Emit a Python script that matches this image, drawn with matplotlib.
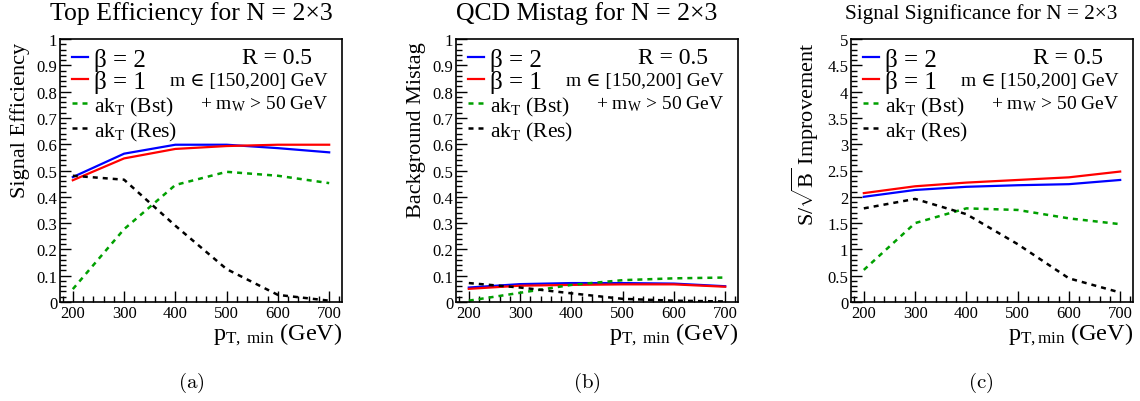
import matplotlib
matplotlib.use("Agg")
import matplotlib.pyplot as plt
from matplotlib.ticker import MultipleLocator

plt.rcParams['font.family'] = ['Liberation Serif', 'DejaVu Serif']
plt.rcParams['mathtext.fontset'] = 'custom'
plt.rcParams['mathtext.rm'] = 'Liberation Serif'
plt.rcParams['mathtext.it'] = 'Liberation Serif:italic'
plt.rcParams['mathtext.bf'] = 'Liberation Serif:bold'

pt = [200, 300, 400, 500, 600, 700]

# (a) Signal efficiency
eff_b2 = [0.475, 0.564, 0.598, 0.598, 0.585, 0.569]
eff_b1 = [0.463, 0.546, 0.582, 0.593, 0.598, 0.598]
eff_bst = [0.049, 0.277, 0.445, 0.495, 0.480, 0.452]
eff_res = [0.480, 0.465, 0.290, 0.125, 0.027, 0.005]

# (b) Background mistag
mis_b2 = [0.055, 0.068, 0.072, 0.072, 0.070, 0.060]
mis_b1 = [0.050, 0.062, 0.065, 0.067, 0.067, 0.058]
mis_bst = [0.005, 0.035, 0.065, 0.083, 0.090, 0.093]
mis_res = [0.072, 0.055, 0.033, 0.012, 0.005, 0.002]

# (c) Significance improvement
sig_b2 = [2.00, 2.13, 2.19, 2.22, 2.24, 2.32]
sig_b1 = [2.07, 2.20, 2.27, 2.32, 2.37, 2.48]
sig_bst = [0.61, 1.50, 1.78, 1.75, 1.59, 1.48]
sig_res = [1.78, 1.96, 1.67, 1.10, 0.45, 0.18]

titles = ["Top Efficiency for N = 2\u00d73", "QCD Mistag for N = 2\u00d73",
          "Signal Significance for N = 2\u00d73"]
ylabels = ["Signal Efficiency", "Background Mistag",
           r"S/$\sqrt{\mathrm{B}}$ Improvement"]
xlabels = [r"p$_{\mathrm{T,\ min}}$ (GeV)", r"p$_{\mathrm{T,\ min}}$ (GeV)",
           r"p$_{\mathrm{T,min}}$ (GeV)"]
captions = ["(a)", "(b)", "(c)"]
legend_labels = ["\u03b2 = 2", "\u03b2 = 1", r"ak$_{\mathrm{T}}$ (Bst)",
                 r"ak$_{\mathrm{T}}$ (Res)"]

W, H = 1140, 402
fig = plt.figure(figsize=(W / 100, H / 100), dpi=100)

axes_left = [60, 456, 851]
centers = [191, 587, 981]
ax_w, ax_top, ax_bot = 282, 40, 303

blue, red, green, black = "#0000ff", "#ff0000", "#00a000", "#000000"
dash = (0, (2.0, 2.0))

panels = [
    (eff_b2, eff_b1, eff_bst, eff_res, 1.0, 0.1, 0.02, 18.5),
    (mis_b2, mis_b1, mis_bst, mis_res, 1.0, 0.1, 0.02, 18.5),
    (sig_b2, sig_b1, sig_bst, sig_res, 5.0, 0.5, 0.1, 15.3),
]

for i, (b2, b1, bst, res, ymax, ymaj, ymin, tfs) in enumerate(panels):
    ax = fig.add_axes([axes_left[i] / W, (H - ax_bot) / H, ax_w / W, (ax_bot - ax_top) / H])
    ax.plot(pt, b2, color=blue, lw=1.6)
    ax.plot(pt, b1, color=red, lw=1.6)
    ax.plot(pt, bst, color=green, lw=1.8, ls=dash)
    ax.plot(pt, res, color=black, lw=1.8, ls=dash)
    ax.set_xlim(175, 725)
    ax.set_ylim(0, ymax)
    ax.xaxis.set_major_locator(MultipleLocator(100))
    ax.xaxis.set_minor_locator(MultipleLocator(20))
    ax.yaxis.set_major_locator(MultipleLocator(ymaj))
    ax.yaxis.set_minor_locator(MultipleLocator(ymin))
    ax.tick_params(which='both', direction='in', top=False, right=False,
                   labelsize=12, width=1.0, pad=2)
    ax.tick_params(which='major', length=8)
    ax.tick_params(which='minor', length=4)
    ax.set_xticks([200, 300, 400, 500, 600, 700])
    if ymax == 1.0:
        ax.set_yticks([0, 0.1, 0.2, 0.3, 0.4, 0.5, 0.6, 0.7, 0.8, 0.9, 1])
        ax.set_yticklabels(["0", "0.1", "0.2", "0.3", "0.4", "0.5", "0.6",
                            "0.7", "0.8", "0.9", "1"])
    else:
        ax.set_yticks([0, 0.5, 1, 1.5, 2, 2.5, 3, 3.5, 4, 4.5, 5])
        ax.set_yticklabels(["0", "0.5", "1", "1.5", "2", "2.5", "3", "3.5",
                            "4", "4.5", "5"])
    for s in ax.spines.values():
        s.set_linewidth(1.2)

    ax.set_ylabel(ylabels[i], fontsize=16)
    ax.yaxis.set_label_coords(-0.108, 0.99, transform=ax.transAxes)
    ax.yaxis.label.set_horizontalalignment('right')
    ax.text(1.0, -0.07, xlabels[i], transform=ax.transAxes, ha='right',
            va='top', fontsize=17.5)

    # legend
    ly = [0.932, 0.848, 0.757, 0.662]
    cols = [blue, red, green, black]
    sty = ['-', '-', dash, dash]
    fss = [18, 18, 15.5, 15.5]
    for k in range(4):
        ax.plot([0.043, 0.10], [ly[k], ly[k]], transform=ax.transAxes,
                color=cols[k], lw=1.6 if k < 2 else 1.8, ls=sty[k], clip_on=False)
        ax.text(0.122, ly[k], legend_labels[k], transform=ax.transAxes,
                ha='left', va='center_baseline', fontsize=fss[k])
    ax.text(0.894, 0.940, "R = 0.5", transform=ax.transAxes, ha='right',
            va='center_baseline', fontsize=17)
    ax.text(0.95, 0.848, "m \u2208 [150,200] GeV", transform=ax.transAxes,
            ha='right', va='center_baseline', fontsize=14)
    ax.text(0.95, 0.765, r"+ m$_{\mathrm{W}}$ > 50 GeV", transform=ax.transAxes,
            ha='right', va='center_baseline', fontsize=14)

    fig.text(centers[i] / W, 1 - 14 / H, titles[i], ha='center', va='center',
             fontsize=tfs)
    fig.text(centers[i] / W, 1 - 383 / H, r"$\mathrm{" + captions[i] + "}$",
             ha='center', va='center', fontsize=15, math_fontfamily='cm')

fig.savefig("out.png", dpi=100)
